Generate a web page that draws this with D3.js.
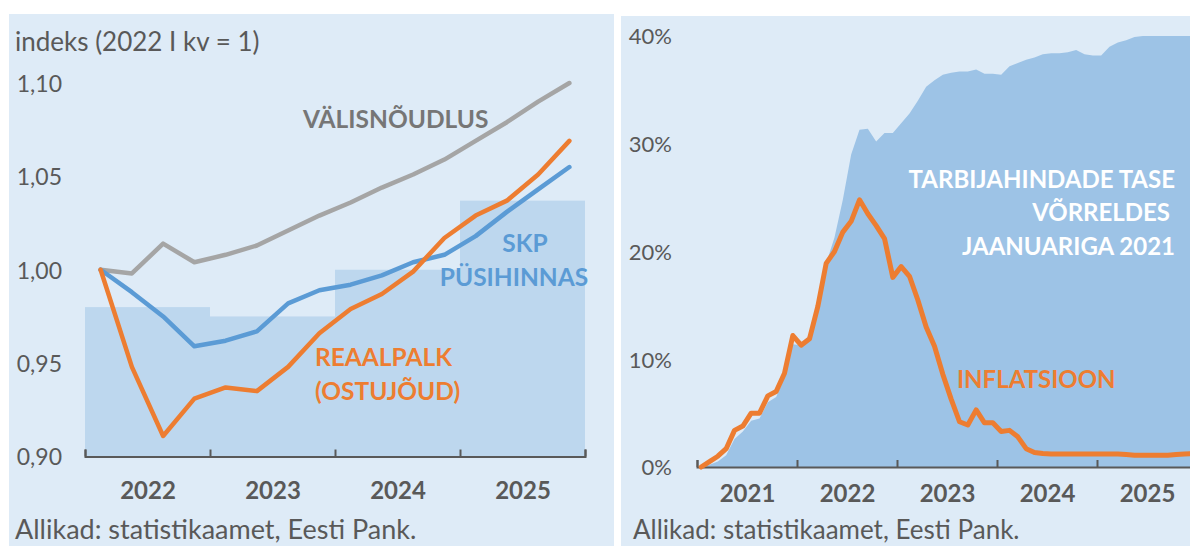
<!DOCTYPE html>
<html>
<head>
<meta charset="utf-8">
<script src="https://cdn.jsdelivr.net/npm/d3@7"></script>
<style>
  body { margin: 0; background: #fff; }
  svg { display: block; font-family: Lato, "Open Sans", sans-serif; }
</style>
</head>
<body>
<div id="plot"></div>
<script>
// left chart: quarterly index, 2022 Q1 = 1
var years = ["2022", "2023", "2024", "2025"];
var gdpAnnual = [0.980, 0.975, 1.000, 1.037];
var foreignDemand = [1.000, 0.998, 1.014, 1.004, 1.008, 1.013, 1.021, 1.029, 1.036, 1.044, 1.051, 1.059, 1.069, 1.079, 1.090, 1.100];
var gdpConst = [1.000, 0.988, 0.975, 0.959, 0.962, 0.967, 0.982, 0.989, 0.992, 0.997, 1.004, 1.008, 1.018, 1.031, 1.043, 1.055];
var realWage = [1.000, 0.948, 0.911, 0.931, 0.937, 0.935, 0.948, 0.966, 0.979, 0.987, 0.999, 1.017, 1.029, 1.037, 1.051, 1.069];
var leftTicks = [0.90, 0.95, 1.00, 1.05, 1.10];

// right chart: monthly, jan 2021 .. dec 2025
var rightYears = ["2021", "2022", "2023", "2024", "2025"];
var priceLevel = [0, 0.2, 0.5, 1.1, 2.6, 3.3, 4.3, 4.5, 6.0, 6.5, 8.3, 11.4,
  11.3, 12.3, 15.5, 18.9, 21.3, 24.8, 29.0, 31.3, 31.4, 30.2, 31.0, 31.0,
  31.9, 32.8, 34.0, 35.3, 35.9, 36.4, 36.6, 36.7, 36.7, 36.9, 36.5, 36.5,
  36.4, 37.2, 37.5, 37.8, 38.0, 38.3, 38.4, 38.4, 38.5, 38.7, 38.3, 38.2,
  38.2, 39.0, 39.4, 39.6, 39.9, 40, 40, 40, 40, 40, 40, 40];
var inflation = [0.0, 0.5, 1.0, 1.7, 3.4, 3.8, 5.0, 5.0, 6.6, 7.0, 8.7, 12.2,
  11.3, 11.9, 14.9, 18.9, 20.0, 21.8, 22.8, 24.8, 23.5, 22.4, 21.2, 17.6,
  18.6, 17.7, 15.5, 13.0, 11.2, 8.6, 6.3, 4.2, 3.9, 5.3, 4.1, 4.1,
  3.3, 3.4, 2.8, 1.7, 1.35, 1.25, 1.2, 1.2, 1.2, 1.2, 1.2, 1.2,
  1.2, 1.2, 1.2, 1.15, 1.1, 1.1, 1.1, 1.1, 1.1, 1.15, 1.2, 1.25];
var rightTicks = [0, 10, 20, 30, 40];

var grey = "#595959";

var svg = d3.select("#plot").append("svg")
  .attr("width", 1190)
  .attr("height", 546);

// panel backgrounds
svg.append("rect").attr("x", 9).attr("y", 14).attr("width", 605).attr("height", 540).attr("fill", "#deebf7");
svg.append("rect").attr("x", 621).attr("y", 16).attr("width", 580).attr("height", 540).attr("fill", "#deebf7");

/*********************** Left chart *********************/
var xL = d3.scaleLinear().domain([0, 16]).range([85, 585]);
var yL = d3.scaleLinear().domain([0.9, 1.1]).range([456.5, 83]);
var commaFmt = d3.formatLocale({ decimal: ",", thousands: " ", grouping: [3], currency: ["", ""] }).format(".2f");

svg.append("g").selectAll("rect")
  .data(gdpAnnual)
  .join("rect")
  .attr("x", function (d, i) { return xL(i * 4); })
  .attr("width", function (d, i) { return xL(i * 4 + 4) - xL(i * 4); })
  .attr("y", function (d) { return yL(d); })
  .attr("height", function (d) { return yL(0.9) - yL(d); })
  .attr("fill", "#bdd7ee");

var lineL = d3.line()
  .x(function (d, i) { return xL(i + 0.5); })
  .y(function (d) { return yL(d); });

[[foreignDemand, "#a5a5a5"], [gdpConst, "#5b9bd5"], [realWage, "#ed7d31"]].forEach(function (s) {
  svg.append("path")
    .datum(s[0])
    .attr("d", lineL)
    .attr("fill", "none")
    .attr("stroke", s[1])
    .attr("stroke-width", 4.5)
    .attr("stroke-linejoin", "round")
    .attr("stroke-linecap", "round");
});

var axL = svg.append("g")
  .attr("transform", "translate(0," + yL(0.9) + ")")
  .call(d3.axisBottom(xL).tickValues([0, 4, 8, 12, 16]).tickSize(-7).tickFormat(""));
axL.selectAll("path, line").attr("stroke", grey).attr("stroke-width", 2);

var axL2 = svg.append("g")
  .attr("transform", "translate(0,499)")
  .call(d3.axisBottom(xL).tickValues([2, 6, 10, 14]).tickSize(0).tickPadding(0)
    .tickFormat(function (d, i) { return years[i]; }));
axL2.select(".domain").remove();
axL2.selectAll("text").attr("dy", 0).attr("fill", grey)
  .attr("font-size", 24).attr("font-weight", "bold").attr("font-family", "Lato");

var ayL = svg.append("g")
  .attr("transform", "translate(62,0)")
  .call(d3.axisLeft(yL).tickValues(leftTicks).tickSize(0).tickPadding(0).tickFormat(commaFmt));
ayL.select(".domain").remove();
ayL.selectAll("text").attr("fill", grey).attr("font-size", 23).attr("font-family", "Lato").attr("dy", "0.36em");

svg.append("text").attr("x", 15).attr("y", 51).attr("fill", grey)
  .attr("font-size", 26).text("indeks (2022 I kv = 1)");

function label(x, y, txt, color, anchor, size) {
  svg.append("text").attr("x", x).attr("y", y)
    .attr("text-anchor", anchor || "start")
    .attr("fill", color).attr("font-size", size || 24.5).attr("font-weight", "bold")
    .text(txt);
}
label(303, 128, "VÄLISNÕUDLUS", "#767676");
label(525, 252, "SKP", "#5b9bd5", "middle");
label(514, 286, "PÜSIHINNAS", "#5b9bd5", "middle");
label(315, 366, "REAALPALK", "#ed7d31");
label(315, 400, "(OSTUJÕUD)", "#ed7d31");

svg.append("text").attr("x", 15).attr("y", 539).attr("fill", grey)
  .attr("font-size", 27).text("Allikad: statistikaamet, Eesti Pank.");

/*********************** Right chart *********************/
var xR = d3.scaleLinear().domain([0, 60]).range([697, 1197]);
var yR = d3.scaleLinear().domain([0, 40]).range([467, 36]);

var area = d3.area()
  .x(function (d, i) { return xR(i + 0.5); })
  .y0(yR(0))
  .y1(function (d) { return yR(d); });

svg.append("path")
  .datum(priceLevel)
  .attr("d", area)
  .attr("fill", "#9dc3e6");

var axR = svg.append("g")
  .attr("transform", "translate(0," + yR(0) + ")")
  .call(d3.axisBottom(xR).tickValues([0, 12, 24, 36, 48, 60]).tickSize(-7).tickFormat(""));
axR.selectAll("path, line").attr("stroke", grey).attr("stroke-width", 2);

svg.append("path")
  .datum(inflation)
  .attr("d", d3.line()
    .x(function (d, i) { return xR(i + 0.5); })
    .y(function (d) { return yR(d); }))
  .attr("fill", "none")
  .attr("stroke", "#ed7d31")
  .attr("stroke-width", 5)
  .attr("stroke-linejoin", "round")
  .attr("stroke-linecap", "round");

var axR2 = svg.append("g")
  .attr("transform", "translate(0,502)")
  .call(d3.axisBottom(xR).tickValues([6, 18, 30, 42, 54]).tickSize(0).tickPadding(0)
    .tickFormat(function (d, i) { return rightYears[i]; }));
axR2.select(".domain").remove();
axR2.selectAll("text").attr("dy", 0).attr("fill", grey)
  .attr("font-size", 24).attr("font-weight", "bold").attr("font-family", "Lato");

var ayR = svg.append("g")
  .attr("transform", "translate(672,0)")
  .call(d3.axisLeft(yR).tickValues(rightTicks).tickSize(0).tickPadding(0)
    .tickFormat(function (d) { return d + "%"; }));
ayR.select(".domain").remove();
ayR.selectAll("text").attr("fill", grey).attr("font-size", 22).attr("font-family", "Lato").attr("dy", "0.36em");

label(1175, 188, "TARBIJAHINDADE TASE", "#ffffff", "end", 24);
label(1170, 221, "VÕRRELDES", "#ffffff", "end", 24);
label(1175, 255, "JAANUARIGA 2021", "#ffffff", "end", 24);
label(957, 388, "INFLATSIOON", "#ed7d31", "start", 24);

svg.append("text").attr("x", 633).attr("y", 539).attr("fill", grey)
  .attr("font-size", 26).text("Allikad: statistikaamet, Eesti Pank.");
</script>
</body>
</html>
